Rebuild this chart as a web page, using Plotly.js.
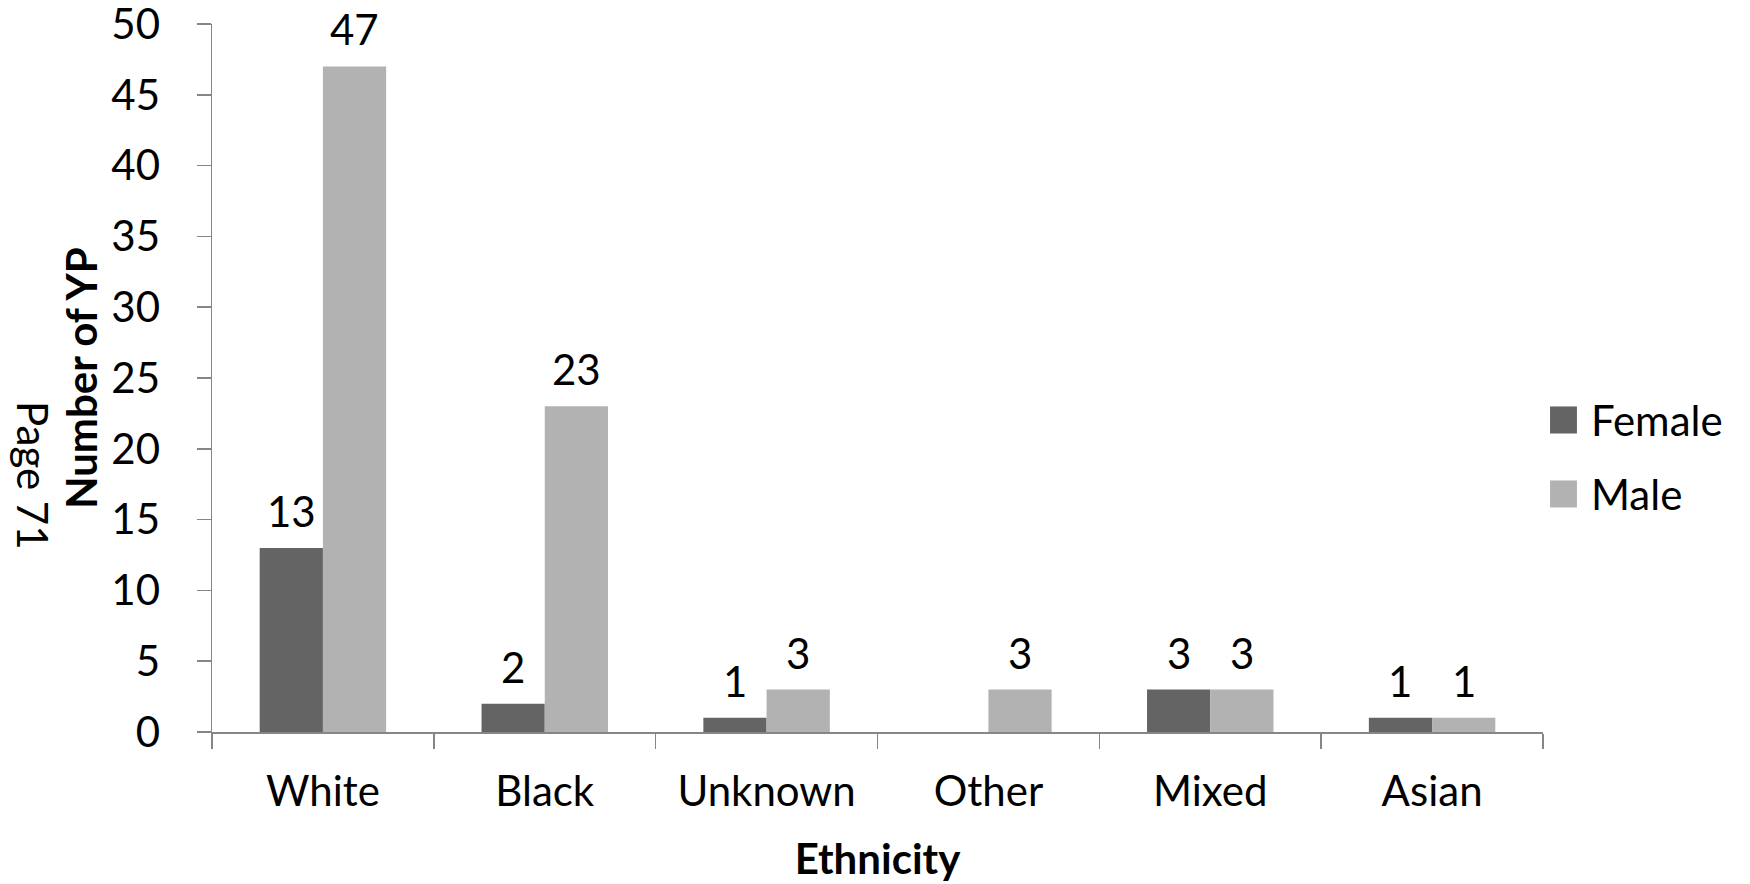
<!DOCTYPE html>
<html>
<head>
<meta charset="utf-8">
<script src="https://cdn.plot.ly/plotly-3.0.1.min.js"></script>
<style>
  html, body { margin: 0; padding: 0; background: #ffffff; }
  #chart { width: 1750px; height: 884px; }
</style>
</head>
<body>
<div id="chart"></div>
<script>
// Young people by ethnicity and gender
const categories = ["White", "Black", "Unknown", "Other", "Mixed", "Asian"];
const femaleValues = [13, 2, 1, 0, 3, 1];
const maleValues = [47, 23, 3, 3, 3, 1];
const seriesNames = ["Female", "Male"];
const seriesColors = ["#646464", "#b2b2b2"];
const yTicks = [0, 5, 10, 15, 20, 25, 30, 35, 40, 45, 50];

const FONT = "Lato, 'Open Sans', sans-serif";
const AXIS_GREY = "#868686";

const series = [femaleValues, maleValues];

const traces = series.map((vals, i) => ({
  type: "bar",
  name: seriesNames[i],
  x: categories,
  y: vals,
  marker: { color: seriesColors[i], line: { width: 0 } },
  showlegend: false,
  hoverinfo: "x+y+name"
}));

// Value labels above each non-zero bar, offset to the bar's slot in the group
const layoutW = 1750, marginL = 212, marginR = 207;
const plotW = layoutW - marginL - marginR;
const slot = plotW / categories.length;
const bargap = 0.43;
const barW = slot * (1 - bargap) / series.length;

const annotations = [];
series.forEach((vals, i) => {
  const offset = (i - (series.length - 1) / 2) * barW;
  vals.forEach((v, j) => {
    if (v === 0) return;
    annotations.push({
      x: categories[j], y: v, xref: "x", yref: "y",
      text: String(v), showarrow: false,
      xanchor: "center", yanchor: "bottom",
      xshift: offset, yshift: 11, borderpad: 0,
      font: { family: FONT, size: 42, color: "#000000" }
    });
  });
});

// Side note running down the left margin
annotations.push({
  xref: "paper", yref: "paper", x: -0.1345, y: 0.3616,
  text: "Page 71", textangle: 90, showarrow: false,
  xanchor: "center", yanchor: "middle",
  font: { family: FONT, size: 42, color: "#000000" }
});

// Legend: swatch + label per series
const shapes = [];
const legendY = [0.4407, 0.3362];
seriesNames.forEach((name, i) => {
  shapes.push({
    type: "rect", xref: "paper", yref: "paper",
    x0: 1.0053, x1: 1.0255,
    y0: legendY[i] - 0.0191, y1: legendY[i] + 0.0191,
    fillcolor: seriesColors[i], line: { width: 0 }
  });
  annotations.push({
    xref: "paper", yref: "paper", x: 1.0345, y: legendY[i],
    text: name, showarrow: false, xanchor: "left", yanchor: "middle",
    font: { family: FONT, size: 42, color: "#000000" }
  });
});

const layout = {
  width: layoutW,
  height: 884,
  margin: { l: marginL, r: marginR, t: 24, b: 152, pad: 0 },
  paper_bgcolor: "#ffffff",
  plot_bgcolor: "#ffffff",
  barmode: "group",
  bargap: bargap,
  bargroupgap: 0,
  showlegend: false,
  font: { family: FONT, size: 42, color: "#000000" },
  xaxis: {
    type: "category",
    categoryorder: "array",
    categoryarray: categories,
    showline: true, linecolor: AXIS_GREY, linewidth: 1.5,
    ticks: "outside", tickson: "boundaries", ticklen: 15,
    tickcolor: AXIS_GREY, tickwidth: 1.5,
    showgrid: false, zeroline: false,
    ticklabelstandoff: 22,
    ticklabeloverflow: "allow",
    tickfont: { family: FONT, size: 42, color: "#000000" },
    title: {
      text: "<b>Ethnicity</b>",
      font: { family: FONT, size: 42, color: "#000000" },
      standoff: 30
    },
    automargin: false
  },
  yaxis: {
    range: [0, 50],
    tickvals: yTicks,
    showline: true, linecolor: AXIS_GREY, linewidth: 1.5,
    ticks: "outside", ticklen: 14, tickcolor: AXIS_GREY, tickwidth: 1.5,
    showgrid: false, zeroline: false,
    ticklabelstandoff: 28,
    ticklabeloverflow: "allow",
    tickfont: { family: FONT, size: 42, color: "#000000" },
    title: {
      text: "<b>Number of YP</b>",
      font: { family: FONT, size: 42, color: "#000000" },
      standoff: 0
    },
    automargin: false
  },
  annotations: annotations,
  shapes: shapes
};

Plotly.newPlot("chart", traces, layout, { staticPlot: true, displayModeBar: false });
</script>
</body>
</html>
